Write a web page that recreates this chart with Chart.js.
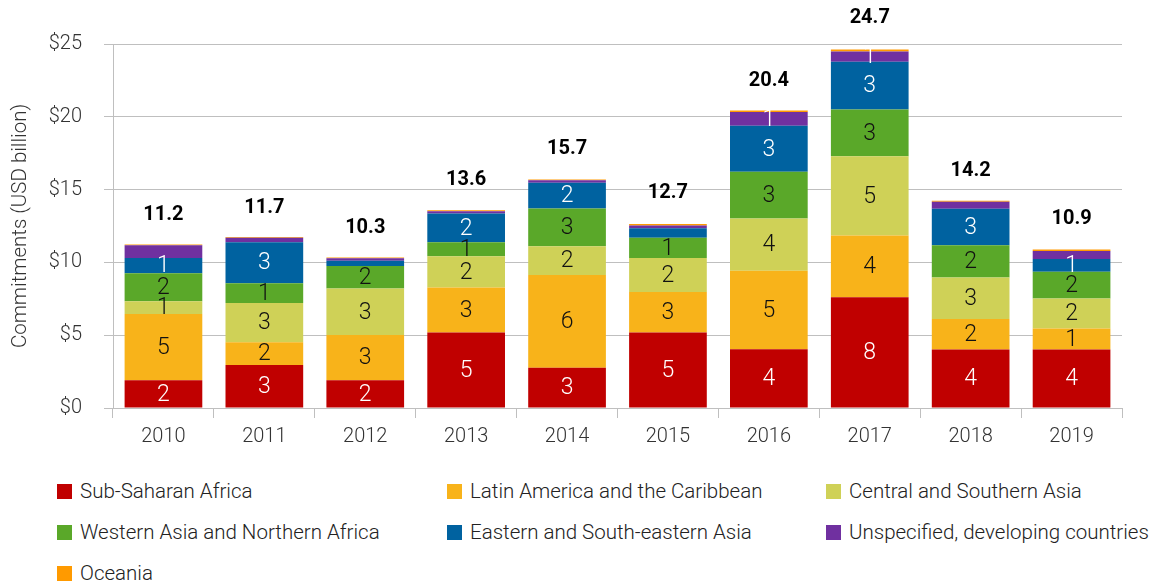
<!DOCTYPE html>
<html>
<head>
<meta charset="utf-8">
<script src="https://cdn.jsdelivr.net/npm/chart.js@4.4.1/dist/chart.umd.min.js"></script>
<style>
    body { margin: 0; background: #fff; font-family: Roboto, "Noto Sans", sans-serif; }
    #wrap { position: relative; width: 1152px; height: 583px; overflow: hidden; }
    #chartBox { position: absolute; left: 0; top: 0; }
    .legend-item { position: absolute; display: flex; align-items: center; font-size: 20.5px; font-weight: 300; color: #222; white-space: nowrap; transform: translateY(-50%); }
    .legend-box { width: 15px; height: 15px; margin-right: 8px; }
</style>
</head>
<body>
<div id="wrap">
    <canvas id="chartBox" width="1152" height="462"></canvas>
    <div id="legend"></div>
</div>
<script>
// Years and regional commitments (USD billion)
const years = ['2010', '2011', '2012', '2013', '2014', '2015', '2016', '2017', '2018', '2019'];

const subSaharan = [1.90, 2.96, 1.90, 5.18, 2.77, 5.18, 4.03, 7.61, 4.01, 4.01];
const latinAmerica = [4.56, 1.55, 3.12, 3.09, 6.37, 2.79, 5.39, 4.23, 2.11, 1.45];
const centralSouthAsia = [0.87, 2.71, 3.18, 2.16, 1.97, 2.34, 3.60, 5.45, 2.85, 2.06];
const westAsiaNorthAfrica = [1.93, 1.35, 1.56, 0.96, 2.59, 1.38, 3.20, 3.21, 2.20, 1.84];
const eastSouthEastAsia = [1.05, 2.82, 0.35, 1.97, 1.77, 0.66, 3.17, 3.28, 2.52, 0.87];
const unspecified = [0.87, 0.30, 0.18, 0.16, 0.18, 0.18, 0.94, 0.70, 0.48, 0.55];
const oceania = [0.05, 0.05, 0.05, 0.06, 0.05, 0.10, 0.11, 0.15, 0.07, 0.10];

const totals = [11.2, 11.7, 10.3, 13.6, 15.7, 12.7, 20.4, 24.7, 14.2, 10.9];
const yTicks = [0, 5, 10, 15, 20, 25];

// the source leaves this one segment unlabelled: [series, year]
const unlabelled = [[5, 0]];

const series = [
    { label: 'Sub-Saharan Africa', data: subSaharan, color: '#C00000', text: '#fff' },
    { label: 'Latin America and the Caribbean', data: latinAmerica, color: '#F8B31A', text: '#111' },
    { label: 'Central and Southern Asia', data: centralSouthAsia, color: '#CFD157', text: '#111' },
    { label: 'Western Asia and Northern Africa', data: westAsiaNorthAfrica, color: '#5AA829', text: '#111' },
    { label: 'Eastern and South-eastern Asia', data: eastSouthEastAsia, color: '#0062A0', text: '#fff' },
    { label: 'Unspecified, developing countries', data: unspecified, color: '#7030A0', text: '#fff' },
    { label: 'Oceania', data: oceania, color: '#FF9A00', text: '#111' }
];

const gridGray = '#BFBFBF';
const tickColor = '#333';

// numbers inside the segments
const segmentLabels = {
    id: 'segmentLabels',
    afterDatasetsDraw(chart) {
        const ctx = chart.ctx;
        ctx.save();
        ctx.font = '300 23px Roboto';
        ctx.textAlign = 'center';
        ctx.textBaseline = 'middle';
        chart.data.datasets.forEach((ds, i) => {
            const meta = chart.getDatasetMeta(i);
            meta.data.forEach((bar, j) => {
                const v = ds.data[j];
                if (v < 0.68) return;
                if (unlabelled.some(p => p[0] === i && p[1] === j)) return;
                ctx.fillStyle = series[i].text;
                ctx.fillText(Math.round(v), bar.x, (bar.y + bar.base) / 2 + 1);
            });
        });
        ctx.restore();
    }
};

// totals above the stacks
const totalLabels = {
    id: 'totalLabels',
    afterDatasetsDraw(chart) {
        const ctx = chart.ctx;
        const x = chart.scales.x, y = chart.scales.y;
        ctx.save();
        ctx.font = 'bold 20px Roboto';
        ctx.fillStyle = '#000';
        ctx.textAlign = 'center';
        ctx.textBaseline = 'middle';
        totals.forEach((t, i) => {
            ctx.fillText(t.toFixed(1), x.getPixelForValue(i), y.getPixelForValue(t) - 30);
        });
        ctx.restore();
    }
};

new Chart(document.getElementById('chartBox'), {
    type: 'bar',
    data: {
        labels: years,
        datasets: series.map(s => ({
            label: s.label,
            data: s.data,
            backgroundColor: s.color,
            borderWidth: 0,
            barPercentage: 0.77,
            categoryPercentage: 1
        }))
    },
    options: {
        responsive: false,
        animation: false,
        devicePixelRatio: 1,
        layout: { padding: { top: 44, right: 30, left: 0, bottom: 0 } },
        plugins: { legend: { display: false }, tooltip: { enabled: false } },
        scales: {
            x: {
                stacked: true,
                afterFit: s => { s.height = 54; },
                grid: { drawOnChartArea: false, offset: true, tickLength: 10, color: gridGray },
                border: { color: gridGray },
                ticks: { color: tickColor, font: { family: 'Roboto', size: 20, weight: '300' }, padding: 7 }
            },
            y: {
                stacked: true,
                min: yTicks[0],
                max: yTicks[yTicks.length - 1],
                afterFit: s => { s.width = 113; },
                afterBuildTicks: s => { s.ticks = yTicks.map(v => ({ value: v })); },
                grid: { color: gridGray, tickLength: 9 },
                border: { color: gridGray },
                ticks: {
                    color: tickColor,
                    font: { family: 'Roboto', size: 20, weight: '300' },
                    padding: 22,
                    callback: v => '$' + v
                },
                title: {
                    display: true,
                    text: 'Commitments (USD billion)',
                    color: tickColor,
                    font: { family: 'Roboto', size: 20.5, weight: '300' },
                    padding: { top: 9, bottom: 0 }
                }
            }
        }
    },
    plugins: [segmentLabels, totalLabels]
});

// legend in three columns under the plot
const legend = document.getElementById('legend');
const colLeft = [57, 447, 826];
const rowMid = [491, 532, 573];
series.forEach((s, i) => {
    const item = document.createElement('div');
    item.className = 'legend-item';
    item.style.left = colLeft[i % 3] + 'px';
    item.style.top = rowMid[Math.floor(i / 3)] + 'px';
    item.innerHTML = '<span class="legend-box" style="background:' + s.color + '"></span>' + s.label;
    legend.appendChild(item);
});
</script>
</body>
</html>
